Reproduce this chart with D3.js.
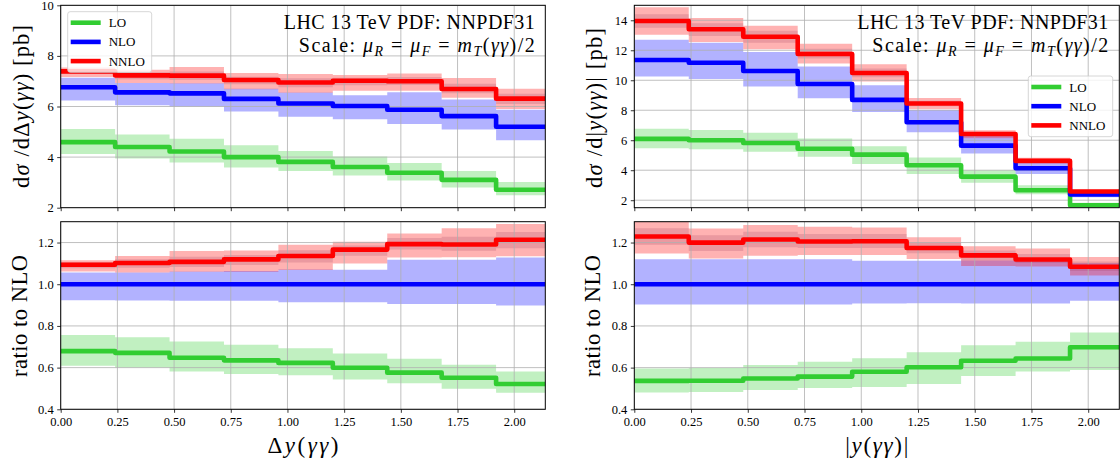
<!DOCTYPE html>
<html>
<head>
<meta charset="utf-8">
<script src="https://cdn.jsdelivr.net/npm/d3@7"></script>
<style>
  body { margin: 0; background: #fff; }
  text { font-family: "Liberation Serif", "DejaVu Serif", serif; fill: #000; }
</style>
</head>
<body>
<script>
// bin edges (shared by both observables)
const edges = [0, 0.24, 0.48, 0.72, 0.96, 1.20, 1.44, 1.68, 1.92, 2.137];
const xTicks = [0, 0.25, 0.5, 0.75, 1.0, 1.25, 1.5, 1.75, 2.0];

// d sigma / d Delta y  [pb]
const dyLO     = [4.59, 4.40, 4.22, 4.00, 3.81, 3.61, 3.38, 3.10, 2.71];
const dyLOlo   = [4.12, 3.94, 3.79, 3.59, 3.45, 3.27, 3.08, 2.80, 2.49];
const dyLOhi   = [5.11, 4.89, 4.73, 4.47, 4.24, 4.02, 3.77, 3.45, 3.02];
const dyNLO    = [6.76, 6.56, 6.52, 6.30, 6.12, 6.02, 5.87, 5.62, 5.20];
const dyNLOlo  = [6.24, 6.05, 6.00, 5.80, 5.59, 5.50, 5.31, 5.09, 4.67];
const dyNLOhi  = [7.14, 6.93, 6.92, 6.70, 6.55, 6.44, 6.56, 6.28, 5.87];
const dyNNLO   = [7.39, 7.23, 7.22, 7.05, 6.95, 7.02, 7.00, 6.69, 6.31];
const dyNNLOlo = [7.17, 6.93, 6.91, 6.68, 6.54, 6.62, 6.62, 6.35, 5.90];
const dyNNLOhi = [7.54, 7.45, 7.56, 7.32, 7.28, 7.25, 7.30, 7.13, 6.70];
// narrower inner NNLO band (darker zone)
const dyNNLOinLo = [7.28, 7.08, 7.06, 6.88, 6.76, 6.84, 6.85, 6.52, 6.10];
const dyNNLOinHi = [7.47, 7.35, 7.38, 7.18, 7.12, 7.14, 7.17, 6.90, 6.50];

// d sigma / d|y|  [pb]
const ayLO     = [6.09, 6.00, 5.82, 5.43, 5.04, 4.33, 3.57, 2.66, 1.66];
const ayLOlo   = [5.46, 5.40, 5.23, 4.90, 4.41, 3.75, 3.16, 2.40, 1.40];
const ayLOhi   = [6.76, 6.68, 6.50, 6.12, 5.60, 4.85, 3.99, 2.99, 1.83];
const ayNLO    = [11.35, 11.17, 10.62, 9.75, 8.69, 7.20, 5.64, 4.13, 2.38];
const ayNLOlo  = [10.25, 10.09, 9.59, 8.80, 7.89, 6.54, 5.12, 3.75, 2.19];
const ayNLOhi  = [12.71, 12.51, 11.89, 10.92, 9.67, 8.01, 6.28, 4.60, 2.62];
const ayNNLO   = [13.95, 13.40, 12.90, 11.75, 10.48, 8.45, 6.42, 4.62, 2.58];
const ayNNLOlo = [13.03, 12.55, 12.07, 11.12, 9.91, 8.07, 6.13, 4.48, 2.48];
const ayNNLOhi = [14.87, 14.16, 13.64, 12.44, 11.06, 8.82, 6.67, 4.84, 2.69];
const ayNNLOinLo = [13.50, 12.95, 12.50, 11.45, 10.20, 8.27, 6.28, 4.55, 2.53];
const ayNNLOinHi = [14.40, 13.80, 13.30, 12.10, 10.78, 8.64, 6.55, 4.73, 2.64];

const orders = ["LO", "NLO", "NNLO"];
const colors = {LO: "#32cd32", NLO: "#0000ff", NNLO: "#ff0000"};

const svg = d3.select("body").append("svg")
    .attr("width", 1120)
    .attr("height", 461);

svg.append("rect").attr("width", 1120).attr("height", 461).attr("fill", "#fff");

const topBox = {top: 5.3, bottom: 207.7};
const botBox = {top: 221.7, bottom: 409.3};
let clipId = 0;

function stepPts(vals, lo, hi) {
    const n = vals.length;
    return edges.map((e, i) => {
        const k = Math.min(i, n - 1);
        return {x: e, y: vals[k], lo: lo[k], hi: hi[k]};
    });
}

function drawAxes(x0, x1, box, yDomain, yTicks, yFmt, series, showXLabels) {
    const xScaler = d3.scaleLinear().domain([0, 2.137]).range([x0, x1]);
    const yScaler = d3.scaleLinear().domain(yDomain).range([box.bottom, box.top]);
    const g = svg.append("g");

    const id = "clip" + (clipId++);
    svg.append("clipPath").attr("id", id)
        .append("rect")
        .attr("x", x0).attr("y", box.top)
        .attr("width", x1 - x0).attr("height", box.bottom - box.top);

    const inner = g.append("g").attr("clip-path", `url(#${id})`);

    const area = d3.area().curve(d3.curveStepAfter)
        .x(d => xScaler(d.x)).y0(d => yScaler(d.lo)).y1(d => yScaler(d.hi));
    const line = d3.line().curve(d3.curveStepAfter)
        .x(d => xScaler(d.x)).y(d => yScaler(d.y));

    // bands
    series.forEach(s => {
        inner.append("path")
            .attr("d", area(stepPts(s.vals, s.lo, s.hi)))
            .attr("fill", colors[s.name])
            .attr("fill-opacity", 0.3);
        if (s.inLo) {
            inner.append("path")
                .attr("d", area(stepPts(s.vals, s.inLo, s.inHi)))
                .attr("fill", "#a04060")
                .attr("fill-opacity", 0.22);
        }
    });

    // grid
    inner.selectAll(".gx").data(xTicks).enter().append("line")
        .attr("x1", d => xScaler(d)).attr("x2", d => xScaler(d))
        .attr("y1", box.top).attr("y2", box.bottom)
        .attr("stroke", "#b0b0b0").attr("stroke-width", 0.8);
    inner.selectAll(".gy").data(yTicks).enter().append("line")
        .attr("x1", x0).attr("x2", x1)
        .attr("y1", d => yScaler(d)).attr("y2", d => yScaler(d))
        .attr("stroke", "#b0b0b0").attr("stroke-width", 0.8);

    // step lines
    series.forEach(s => {
        inner.append("path")
            .attr("d", line(stepPts(s.vals, s.lo, s.hi)))
            .attr("fill", "none")
            .attr("stroke", colors[s.name])
            .attr("stroke-width", 4.6)
            .attr("stroke-linejoin", "round");
    });

    // axes
    const xAxisGen = d3.axisBottom(xScaler).tickValues(xTicks)
        .tickSize(3.5).tickPadding(4)
        .tickFormat(showXLabels ? d3.format(".2f") : "");
    const xAxis = g.append("g")
        .attr("transform", `translate(0,${box.bottom})`)
        .call(xAxisGen);

    const yAxisGen = d3.axisLeft(yScaler).tickValues(yTicks)
        .tickSize(3.5).tickPadding(3.5)
        .tickFormat(yFmt);
    const yAxis = g.append("g")
        .attr("transform", `translate(${x0},0)`)
        .call(yAxisGen);

    [xAxis, yAxis].forEach(a => {
        a.select(".domain").remove();
        a.selectAll(".tick line").attr("stroke", "#000").attr("stroke-width", 0.8);
        a.selectAll(".tick text")
            .attr("font-family", "Liberation Serif")
            .attr("font-size", "12.5px")
            .attr("fill", "#222");
    });

    g.append("rect")
        .attr("x", x0).attr("y", box.top)
        .attr("width", x1 - x0).attr("height", box.bottom - box.top)
        .attr("fill", "none").attr("stroke", "#000").attr("stroke-width", 1);

    return {xScaler, yScaler};
}

function ratioSeries(name, vals, lo, hi, ref, inLo, inHi) {
    const r = arr => arr.map((v, i) => v / ref[i]);
    const s = {name: name, vals: r(vals), lo: r(lo), hi: r(hi)};
    if (inLo) { s.inLo = r(inLo); s.inHi = r(inHi); }
    return s;
}

function legend(x, y, w, h) {
    const lg = svg.append("g");
    lg.append("rect")
        .attr("x", x).attr("y", y).attr("width", w).attr("height", h)
        .attr("rx", 2.5)
        .attr("fill", "#fff").attr("fill-opacity", 0.8)
        .attr("stroke", "#cccccc").attr("stroke-width", 0.8);
    orders.forEach((o, i) => {
        const cy = y + 11 + i * 19.2;
        lg.append("line")
            .attr("x1", x + 3).attr("x2", x + 33)
            .attr("y1", cy).attr("y2", cy)
            .attr("stroke", colors[o]).attr("stroke-width", 4.6);
        lg.append("text")
            .attr("x", x + 41).attr("y", cy + 4.5)
            .attr("font-size", "13px")
            .text(o);
    });
}

function title(xr) {
    svg.append("text")
        .attr("x", xr).attr("y", 28.5)
        .attr("text-anchor", "end")
        .attr("font-size", "20px")
        .attr("textLength", 251).attr("lengthAdjust", "spacing")
        .text("LHC 13 TeV PDF: NNPDF31");
    const t = svg.append("text")
        .attr("x", xr).attr("y", 51.5)
        .attr("text-anchor", "end")
        .attr("font-size", "20px")
        .attr("textLength", 236).attr("lengthAdjust", "spacing");
    t.append("tspan").text("Scale: ");
    t.append("tspan").attr("font-style", "italic").text("μ");
    t.append("tspan").attr("font-style", "italic").attr("font-size", "14px").attr("dy", 4).text("R");
    t.append("tspan").attr("dy", -4).text(" = ");
    t.append("tspan").attr("font-style", "italic").text("μ");
    t.append("tspan").attr("font-style", "italic").attr("font-size", "14px").attr("dy", 4).text("F");
    t.append("tspan").attr("dy", -4).text(" = ");
    t.append("tspan").attr("font-style", "italic").text("m");
    t.append("tspan").attr("font-style", "italic").attr("font-size", "14px").attr("dy", 4).text("T");
    t.append("tspan").attr("dy", -4).text("(");
    t.append("tspan").attr("font-style", "italic").text("γγ");
    t.append("tspan").text(")/2");
}

function yLabelTop(x, y, len, mid, close) {
    const t = svg.append("text")
        .attr("transform", `translate(${x},${y}) rotate(-90)`)
        .attr("text-anchor", "middle")
        .attr("font-size", "22.5px")
        .attr("textLength", len).attr("lengthAdjust", "spacing");
    t.append("tspan").text("d");
    t.append("tspan").attr("font-style", "italic").text("σ");
    t.append("tspan").text(" /d");
    mid(t);
    t.append("tspan").text("(");
    t.append("tspan").attr("font-style", "italic").text("γγ");
    t.append("tspan").text(")" + close + " [pb]");
}

function yLabelBot(x, y) {
    svg.append("text")
        .attr("transform", `translate(${x},${y}) rotate(-90)`)
        .attr("text-anchor", "middle")
        .attr("font-size", "22.5px")
        .attr("textLength", 122).attr("lengthAdjust", "spacing")
        .text("ratio to NLO");
}

// ---------- left column: Delta y ----------
const L = {x0: 60.7, x1: 545.3};
drawAxes(L.x0, L.x1, topBox, [2, 10], [2, 4, 6, 8, 10], d3.format("d"), [
    {name: "LO", vals: dyLO, lo: dyLOlo, hi: dyLOhi},
    {name: "NLO", vals: dyNLO, lo: dyNLOlo, hi: dyNLOhi},
    {name: "NNLO", vals: dyNNLO, lo: dyNNLOlo, hi: dyNNLOhi, inLo: dyNNLOinLo, inHi: dyNNLOinHi}
], false);
drawAxes(L.x0, L.x1, botBox, [0.4, 1.3], [0.4, 0.6, 0.8, 1.0, 1.2], d3.format(".1f"), [
    ratioSeries("LO", dyLO, dyLOlo, dyLOhi, dyNLO),
    ratioSeries("NLO", dyNLO, dyNLOlo, dyNLOhi, dyNLO),
    ratioSeries("NNLO", dyNNLO, dyNNLOlo, dyNNLOhi, dyNLO, dyNNLOinLo, dyNNLOinHi)
], true);

// ---------- right column: |y| ----------
const R = {x0: 634.3, x1: 1119.3};
drawAxes(R.x0, R.x1, topBox, [1.5, 15], [2, 4, 6, 8, 10, 12, 14], d3.format("d"), [
    {name: "LO", vals: ayLO, lo: ayLOlo, hi: ayLOhi},
    {name: "NLO", vals: ayNLO, lo: ayNLOlo, hi: ayNLOhi},
    {name: "NNLO", vals: ayNNLO, lo: ayNNLOlo, hi: ayNNLOhi, inLo: ayNNLOinLo, inHi: ayNNLOinHi}
], false);
drawAxes(R.x0, R.x1, botBox, [0.4, 1.3], [0.4, 0.6, 0.8, 1.0, 1.2], d3.format(".1f"), [
    ratioSeries("LO", ayLO, ayLOlo, ayLOhi, ayNLO),
    ratioSeries("NLO", ayNLO, ayNLOlo, ayNLOhi, ayNLO),
    ratioSeries("NNLO", ayNNLO, ayNNLOlo, ayNNLOhi, ayNLO, ayNNLOinLo, ayNNLOinHi)
], true);

// legends and annotations
legend(67.7, 11.7, 84, 60.6);
legend(1028.3, 76, 84.4, 60.7);
title(L.x1 - 10.5);
title(R.x1 - 11);

yLabelTop(29, 106.5, 163, t => {
    t.append("tspan").text("Δ");
    t.append("tspan").attr("font-style", "italic").text("y");
}, "");
yLabelTop(602, 108, 160, t => {
    t.append("tspan").text("|");
    t.append("tspan").attr("font-style", "italic").text("y");
}, "|");
yLabelBot(26.5, 316);
yLabelBot(600, 316);

// x labels
const xl1 = svg.append("text").attr("x", (L.x0 + L.x1) / 2).attr("y", 452.5)
    .attr("text-anchor", "middle").attr("font-size", "23px")
    .attr("textLength", 71).attr("lengthAdjust", "spacing");
xl1.append("tspan").text("Δ");
xl1.append("tspan").attr("font-style", "italic").text("y");
xl1.append("tspan").text("(");
xl1.append("tspan").attr("font-style", "italic").text("γγ");
xl1.append("tspan").text(")");

const xl2 = svg.append("text").attr("x", (R.x0 + R.x1) / 2).attr("y", 452.5)
    .attr("text-anchor", "middle").attr("font-size", "23px")
    .attr("textLength", 63).attr("lengthAdjust", "spacing");
xl2.append("tspan").text("|");
xl2.append("tspan").attr("font-style", "italic").text("y");
xl2.append("tspan").text("(");
xl2.append("tspan").attr("font-style", "italic").text("γγ");
xl2.append("tspan").text(")|");
</script>
</body>
</html>
